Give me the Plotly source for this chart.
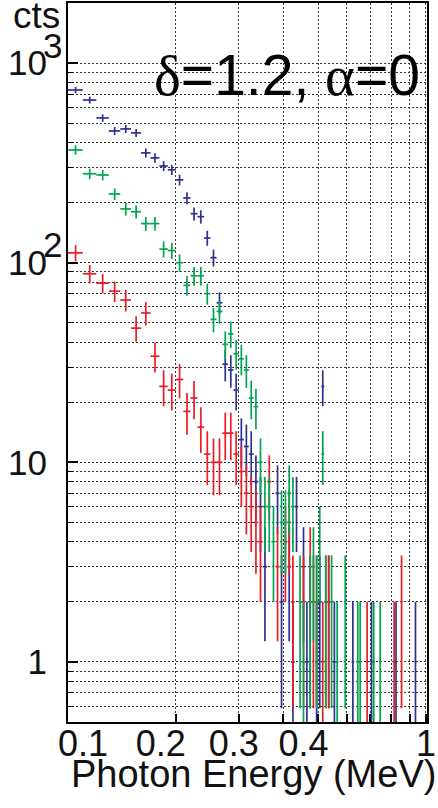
import math
import plotly.graph_objects as go

# Bin centres (MeV), 10 keV bins from 0.1 to 1.0 MeV
energy = [
    0.105, 0.115, 0.125, 0.135, 0.145, 0.155, 0.165, 0.175, 0.185, 0.195,
    0.205, 0.215, 0.225, 0.235, 0.245, 0.255, 0.265, 0.275, 0.285, 0.295,
    0.305, 0.315, 0.325, 0.335, 0.345, 0.355, 0.365, 0.375, 0.385, 0.395,
    0.405, 0.415, 0.425, 0.435, 0.445, 0.455, 0.465, 0.475, 0.485, 0.495,
    0.505, 0.515, 0.525, 0.535, 0.545, 0.555, 0.565, 0.575, 0.585, 0.595,
    0.605, 0.615, 0.625, 0.635, 0.645, 0.655, 0.665, 0.675, 0.685, 0.695,
    0.705, 0.715, 0.725, 0.735, 0.745, 0.755, 0.765, 0.775, 0.785, 0.795,
    0.805, 0.815, 0.825, 0.835, 0.845, 0.855, 0.865, 0.875, 0.885, 0.895,
    0.905, 0.915, 0.925, 0.935, 0.945, 0.955, 0.965, 0.975, 0.985, 0.995,
]
bin_half_width = 0.005
N = None

counts_blue = [
    733, 653, 531, 457, 468, 447, 355, 335, 305, 292,
    260, 211, 176, 170, 133, 106, 63, 31, 29, 23,
    13, 12, 11, 8, 6, 3, N, N, 7, 2,
    N, 3, 1, 6, N, 3, 1, 2, N, 1,
    2, 24, N, 2, N, 1, N, N, N, N,
    N, N, 1, N, N, N, N, N, N, N,
    1, N, N, N, N, N, N, N, N, N,
    N, N, 1, N, N, N, N, N, N, N,
    N, N, N, 1, N, N, N, N, N, N,
]
counts_green = [
    367, 279, 275, 221, 186, 180, 157, 157, 117, 115,
    100, 77, 86, 86, 70, 52, 57, 39, 44, 35,
    33, 29, 21, 19, 10, 6, 6, 4, N, 5,
    5, 7, 6, N, 2, 1, N, 2, 3, 2,
    4, 11, 2, N, 2, N, 1, N, N, 2,
    N, N, N, N, 1, 1, N, N, N, N,
    N, 1, N, N, 1, N, N, N, N, N,
    N, N, N, N, N, N, N, N, N, N,
    N, N, N, N, N, N, N, N, N, N,
]
counts_red = [
    112, 88, 79, 72, 65, 47, 56, 34, 24, 23,
    26, 18, 21, 15, 11, 10, 10, 14, 14, 11,
    9, 7, 6, 5, 4, N, 8, N, 3, N,
    4, 5, 2, N, N, 2, N, 3, 2, 2,
    N, 1, 2, 2, N, N, N, N, N, N,
    N, N, N, N, N, N, N, N, 1, N,
    N, N, N, N, N, N, N, N, N, N,
    N, 1, N, N, N, 2, N, N, N, N,
    N, N, N, N, N, N, N, N, N, N,
]

series = [
    ("blue", counts_blue, "#2e3192"),
    ("red", counts_red, "#ed1c24"),
    ("green", counts_green, "#00a651"),
]

NB = "\u00a0"
x_tick_vals = [0.1, 0.2, 0.3, 0.4, 1.0]
x_tick_text = [NB * 3 + "0.1", "0.2" + NB * 3, "0.3" + NB, NB * 4 + "0.4", "1"]
x_minor_vals = [0.5, 0.6, 0.7, 0.8, 0.9]
y_tick_vals = [1, 10, 100, 1000]
y_tick_text = ["1", "10", "10", "10"]
y_superscripts = [(100, "2"), (1000, "3")]
y_minor_vals = [0.6, 0.7, 0.8, 0.9] + [m * d for d in (1, 10, 100) for m in range(2, 10)]

FONT = "Liberation Sans"
GRID = dict(showgrid=True, gridcolor="#333333", gridwidth=1, griddash="2px,2px")

fig = go.Figure()
for name, counts, color in series:
    errs = [math.sqrt(c) if c is not None else None for c in counts]
    fig.add_trace(go.Scatter(
        x=energy, y=counts, mode="markers", name=name,
        marker=dict(size=1, color=color, opacity=0),
        error_x=dict(type="constant", value=bin_half_width, color=color,
                     thickness=1.7, width=0),
        error_y=dict(type="data", array=errs, symmetric=True, color=color,
                     thickness=1.7, width=0),
        showlegend=False, cliponaxis=True,
    ))

fig.update_layout(
    width=438, height=808,
    margin=dict(l=68, r=11, t=3, b=86, autoexpand=False),
    paper_bgcolor="white", plot_bgcolor="white",
    font=dict(family=FONT, color="black"),
    xaxis=dict(
        type="log", range=[-1, 0.003], automargin=False,
        tickmode="array", tickvals=x_tick_vals, ticktext=x_tick_text,
        tickangle=0,
        ticks="inside", ticklen=8, tickwidth=1.5, tickcolor="black",
        tickfont=dict(family=FONT, size=36, color="#111"),
        ticklabelstandoff=-11,
        minor=dict(tickmode="array", tickvals=x_minor_vals, ticks="inside",
                   ticklen=8, tickwidth=1.5, tickcolor="black", **GRID),
        showline=True, linecolor="black", linewidth=2, mirror=True,
        zeroline=False, **GRID,
    ),
    yaxis=dict(
        type="log", range=[math.log10(0.5), math.log10(2000)], automargin=False,
        tickmode="array", tickvals=y_tick_vals, ticktext=y_tick_text,
        ticks="inside", ticklen=10, tickwidth=1.5, tickcolor="black",
        tickfont=dict(family=FONT, size=35, color="#111"),
        ticklabelstandoff=12,
        minor=dict(tickmode="array", tickvals=y_minor_vals, ticks="inside",
                   ticklen=5, tickwidth=1, tickcolor="black", **GRID),
        showline=True, linecolor="black", linewidth=2, mirror=True,
        zeroline=False, **GRID,
    ),
)

annotations = []
for val, sup in y_superscripts:
    annotations.append(dict(
        xref="paper", yref="y", x=-0.043, y=math.log10(val) + 0.09,
        text=sup, showarrow=False, xanchor="center", yanchor="middle",
        font=dict(family=FONT, size=35, color="#111"),
    ))
annotations.append(dict(
    xref="paper", yref="paper", x=-0.017, y=0.983, text="cts",
    showarrow=False, xanchor="right", yanchor="middle",
    font=dict(family=FONT, size=37, color="#111"),
))
annotations.append(dict(
    xref="paper", yref="paper", x=1.03, y=-0.073, text="Photon Energy (MeV)",
    showarrow=False, xanchor="right", yanchor="middle",
    font=dict(family=FONT, size=38, color="#111"),
))
annotations.append(dict(
    xref="paper", yref="paper", x=0.986, y=0.900,
    text="<span style='font-family:Liberation Serif'>δ</span>=1.2, "
         "<span style='font-family:Liberation Serif'>α</span>=0",
    showarrow=False, xanchor="right", yanchor="middle",
    font=dict(family=FONT, size=57, color="black"),
))
fig.update_layout(annotations=annotations)

fig.write_html(
    "out.html",
    config={"displayModeBar": False},
    post_script="document.body.style.margin='0px';document.body.style.overflow='hidden';",
)
